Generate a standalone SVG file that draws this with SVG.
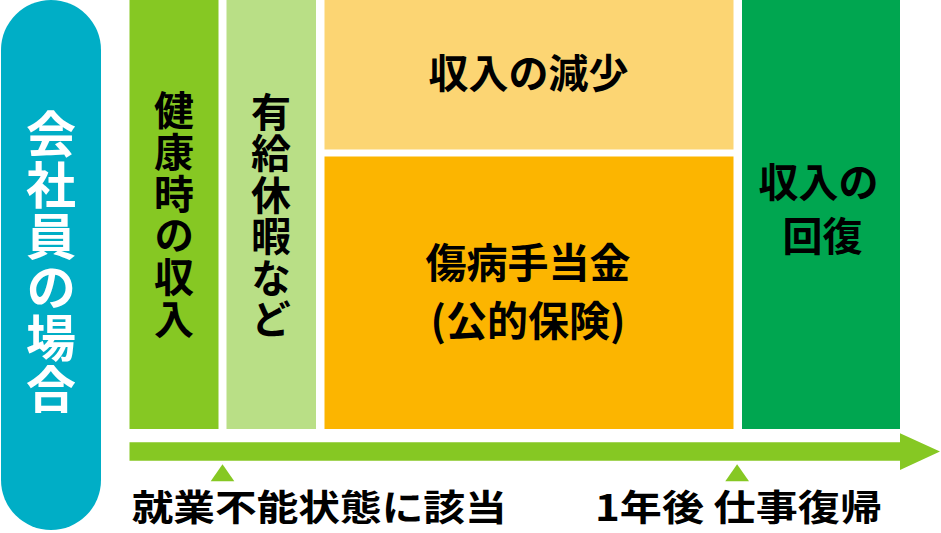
<svg xmlns="http://www.w3.org/2000/svg" width="941" height="533" viewBox="0 0 941 533">
<style>
.t{font-family:"Noto Sans CJK JP","Noto Sans",sans-serif;font-weight:700;fill:#000;text-anchor:middle}
.v{font-family:"Noto Sans CJK JP","Noto Sans",sans-serif;font-weight:700;fill:#000;writing-mode:vertical-rl;text-orientation:upright;text-anchor:start}
.w{fill:#fff}
.g{fill:#86C823}
</style>
<rect width="941" height="533" fill="#fff"/>
<g id="label-side">
<rect x="1" y="0" width="100" height="530" rx="50" ry="50" fill="#00AEC6"/>
<text class="v w" font-size="50" letter-spacing="1" x="51" y="109">会社員の場合</text>
</g>
<g id="node-healthy">
<rect x="129.5" y="0" width="89" height="429" fill="#86C823"/>
<text class="v" font-size="40" letter-spacing="1.7" x="174" y="90">健康時の収入</text>
</g>
<g id="node-paid-leave">
<rect x="226.5" y="0" width="89.5" height="429" fill="#B9DF86"/>
<text class="v" font-size="40" letter-spacing="1.5" x="271" y="91.5">有給休暇など</text>
</g>
<g id="node-decrease">
<rect x="324.5" y="0" width="409" height="149.5" fill="#FCD573"/>
<text class="t" font-size="40" x="528.5" y="88">収入の減少</text>
</g>
<g id="node-sickness">
<rect x="324.5" y="156.5" width="409" height="272.5" fill="#FCB500"/>
<text class="t" font-size="41" x="528" y="278">傷病手当金</text>
<text class="t" font-size="41" x="528" y="335.5">(公的保険)</text>
</g>
<g id="node-recovery">
<rect x="742" y="0" width="158" height="429" fill="#00A650"/>
<text class="t" font-size="40" x="818.5" y="197">収入の</text>
<text class="t" font-size="40" x="822.5" y="251">回復</text>
</g>
<g id="connectors">
<path class="g" d="M129.5 442.3H900V433.3L940 451.6L900 470V460.7H129.5Z"/>
<path class="g" d="M210.7 481.3L222.5 464.3L234.3 481.3Z"/>
<path class="g" d="M725.3 481.3L737.1 464.3L749 481.3Z"/>
</g>
<g id="labels-bottom">
<text class="t" font-size="36" x="131.7" y="521" style="text-anchor:start" textLength="375" lengthAdjust="spacingAndGlyphs">就業不能状態に該当</text>
<text class="t" font-size="36" x="595" y="521" style="text-anchor:start" textLength="287" lengthAdjust="spacingAndGlyphs">1年後 仕事復帰</text>
</g>
</svg>
